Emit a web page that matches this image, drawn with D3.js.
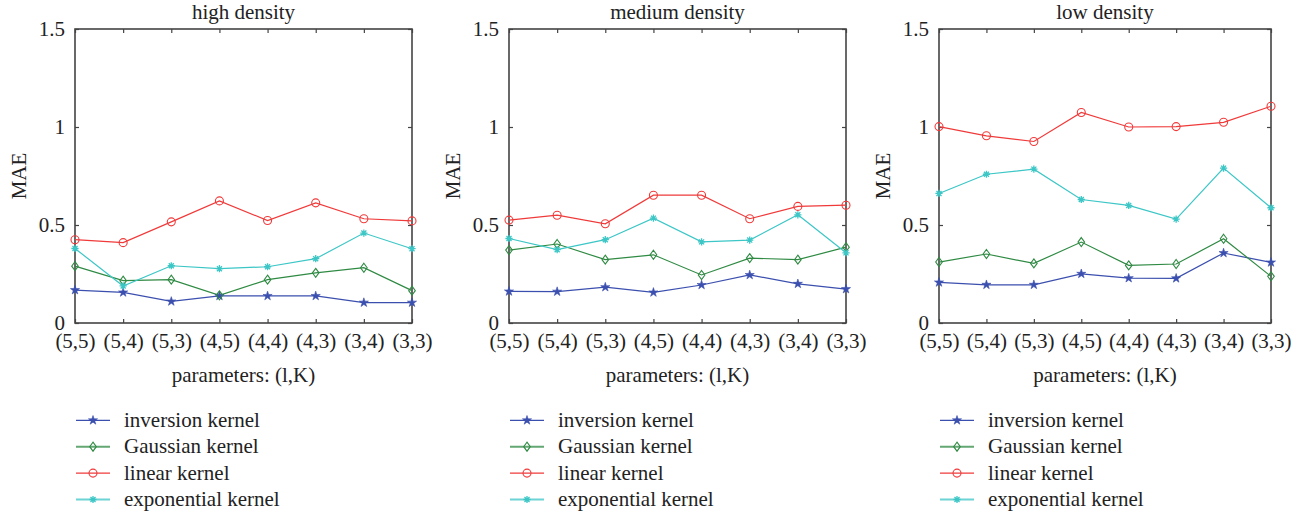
<!DOCTYPE html>
<html><head><meta charset="utf-8">
<script src="https://cdn.jsdelivr.net/npm/d3@7"></script>
<style>body{margin:0;background:#fff;}</style>
</head><body>
<svg id="c" width="1306" height="513"></svg>
<script>
const categories = ["(5,5)","(5,4)","(5,3)","(4,5)","(4,4)","(4,3)","(3,4)","(3,3)"];
const yTicks = [0, 0.5, 1, 1.5];
const yTickLabels = ["0", "0.5", "1", "1.5"];
const panelTitles = ["high density", "medium density", "low density"];
const seriesNames = ["inversion kernel", "Gaussian kernel", "linear kernel", "exponential kernel"];

// high density
const highInversion   = [0.168, 0.156, 0.110, 0.138, 0.138, 0.138, 0.104, 0.104];
const highGaussian    = [0.290, 0.216, 0.221, 0.141, 0.221, 0.256, 0.282, 0.165];
const highLinear      = [0.425, 0.410, 0.516, 0.623, 0.523, 0.613, 0.532, 0.521];
const highExponential = [0.380, 0.189, 0.292, 0.277, 0.287, 0.328, 0.459, 0.379];
// medium density
const medInversion   = [0.161, 0.160, 0.183, 0.156, 0.194, 0.245, 0.200, 0.173];
const medGaussian    = [0.372, 0.403, 0.323, 0.348, 0.245, 0.331, 0.323, 0.387];
const medLinear      = [0.525, 0.550, 0.506, 0.652, 0.652, 0.532, 0.595, 0.601];
const medExponential = [0.431, 0.374, 0.425, 0.535, 0.414, 0.423, 0.552, 0.358];
// low density
const lowInversion   = [0.207, 0.195, 0.195, 0.251, 0.229, 0.228, 0.357, 0.309];
const lowGaussian    = [0.311, 0.352, 0.304, 0.413, 0.294, 0.301, 0.430, 0.238];
const lowLinear      = [1.002, 0.955, 0.926, 1.074, 1.000, 1.002, 1.024, 1.106];
const lowExponential = [0.661, 0.759, 0.785, 0.630, 0.600, 0.530, 0.790, 0.588];

const panelData = [
  [highInversion, highGaussian, highLinear, highExponential],
  [medInversion, medGaussian, medLinear, medExponential],
  [lowInversion, lowGaussian, lowLinear, lowExponential]
];

const colors = ["#3b4fae", "#2f8a43", "#f03a3a", "#3cc6c6"];
const markers = ["pentagram", "diamond", "circle", "asterisk"];
const panels = [{l:75, r:412}, {l:509, r:846}, {l:939, r:1271}];
const plotTop = 29, plotBottom = 323;
const FONT = '"Liberation Serif", "Times New Roman", serif';
const FS = 21;

const svg = d3.select("#c");
const frame = "#444";

function drawMarker(g, type, x, y, color) {
  if (type === "pentagram") {
    g.append("path").attr("d", d3.symbol(d3.symbolStar, 26)()).attr("transform", `translate(${x},${y})`)
      .attr("fill", color).attr("stroke", color).attr("stroke-width", 0.6);
  } else if (type === "diamond") {
    g.append("path").attr("d", `M0,-4.5L3.3,0L0,4.5L-3.3,0Z`).attr("transform", `translate(${x},${y})`)
      .attr("fill", "none").attr("stroke", color).attr("stroke-width", 1.1);
  } else if (type === "circle") {
    g.append("circle").attr("cx", x).attr("cy", y).attr("r", 4)
      .attr("fill", "none").attr("stroke", color).attr("stroke-width", 1.1);
  } else {
    const s = 3.6;
    g.append("path").attr("d", `M${-s},0L${s},0M0,${-s}L0,${s}M${-s*0.7},${-s*0.7}L${s*0.7},${s*0.7}M${-s*0.7},${s*0.7}L${s*0.7},${-s*0.7}`)
      .attr("transform", `translate(${x},${y})`).attr("stroke", color).attr("stroke-width", 1.3).attr("fill","none");
  }
}

function styleText(sel) {
  return sel.style("font-family", FONT).style("font-size", FS + "px").attr("fill", "#222");
}

panels.forEach((p, pi) => {
  const g = svg.append("g");
  const x = d3.scalePoint().domain(categories).range([p.l, p.r]).padding(0);
  const y = d3.scaleLinear().domain([0, 1.5]).range([plotBottom, plotTop]);

  g.append("rect").attr("x", p.l).attr("y", plotTop).attr("width", p.r - p.l).attr("height", plotBottom - plotTop)
    .attr("fill", "none").attr("stroke", frame).attr("stroke-width", 1.6);

  const xAxis = d3.axisBottom(x).tickSizeInner(-4).tickSizeOuter(0).tickPadding(10);
  const gx = g.append("g").attr("transform", `translate(0,${plotBottom})`).call(xAxis);
  gx.select(".domain").remove();
  gx.selectAll(".tick line").attr("stroke", frame).attr("stroke-width", 1.2);
  styleText(gx.selectAll(".tick text")).attr("dy", "0.72em");
  const gxt = g.append("g").attr("transform", `translate(0,${plotTop})`).call(d3.axisTop(x).tickSizeInner(-4).tickSizeOuter(0).tickFormat(""));
  gxt.select(".domain").remove();
  gxt.selectAll(".tick line").attr("stroke", frame).attr("stroke-width", 1.2);

  const yAxis = d3.axisLeft(y).tickValues(yTicks).tickFormat((d, i) => yTickLabels[i]).tickSizeInner(-4).tickSizeOuter(0).tickPadding(10);
  const gy = g.append("g").attr("transform", `translate(${p.l},0)`).call(yAxis);
  gy.select(".domain").remove();
  gy.selectAll(".tick line").attr("stroke", frame).attr("stroke-width", 1.2);
  styleText(gy.selectAll(".tick text"));
  const gyr = g.append("g").attr("transform", `translate(${p.r},0)`).call(d3.axisRight(y).tickValues(yTicks).tickSizeInner(-4).tickSizeOuter(0).tickFormat(""));
  gyr.select(".domain").remove();
  gyr.selectAll(".tick line").attr("stroke", frame).attr("stroke-width", 1.2);

  const cx = (p.l + p.r) / 2;
  styleText(g.append("text").attr("x", cx).attr("y", 19).attr("text-anchor", "middle")).text(panelTitles[pi]);
  styleText(g.append("text").attr("x", cx).attr("y", 382).attr("text-anchor", "middle")).text("parameters: (l,K)");
  styleText(g.append("text").attr("transform", `translate(${p.l - 49},${(plotTop + plotBottom) / 2}) rotate(-90)`)
    .attr("text-anchor", "middle")).text("MAE");

  const line = d3.line().x((d, i) => x(categories[i])).y(d => y(d));
  panelData[pi].forEach((vals, si) => {
    g.append("path").datum(vals).attr("d", line).attr("fill", "none")
      .attr("stroke", colors[si]).attr("stroke-width", 1.2);
  });
  panelData[pi].forEach((vals, si) => {
    vals.forEach((v, i) => drawMarker(g, markers[si], x(categories[i]), y(v), colors[si]));
  });

  const ly0 = 420.3, ldy = 26.4;
  seriesNames.forEach((name, si) => {
    const ly = ly0 + si * ldy;
    g.append("line").attr("x1", p.l + 1).attr("x2", p.l + 35).attr("y1", ly).attr("y2", ly)
      .attr("stroke", colors[si]).attr("stroke-width", si === 1 || si === 3 ? 2 : 1.2).attr("opacity", si === 1 || si === 3 ? 0.75 : 1);
    drawMarker(g, markers[si], p.l + 18, ly, colors[si]);
    styleText(g.append("text").attr("x", p.l + 49).attr("y", ly).attr("dy", "0.32em")).text(name);
  });
});
</script>
</body></html>
